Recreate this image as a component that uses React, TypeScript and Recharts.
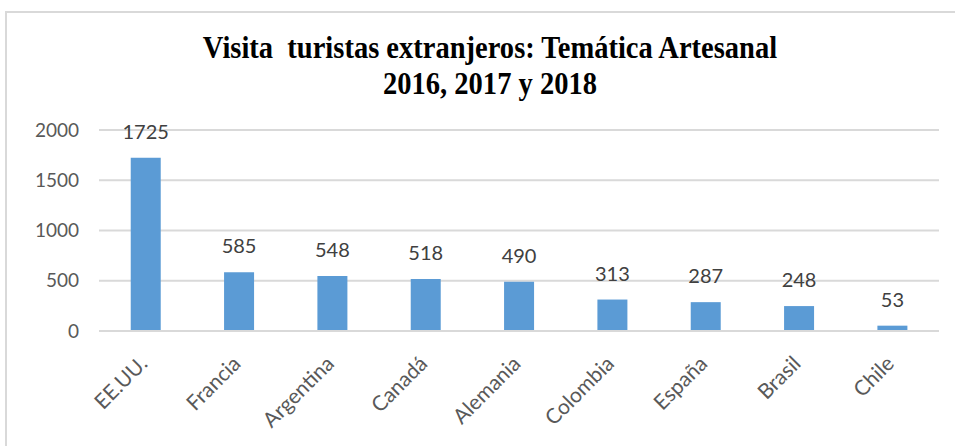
import { Bar, BarChart, CartesianGrid, LabelList, XAxis, YAxis } from "recharts";

const countries = [
  "EE.UU.",
  "Francia",
  "Argentina",
  "Canadá",
  "Alemania",
  "Colombia",
  "España",
  "Brasil",
  "Chile",
];
const visits = [1725, 585, 548, 518, 490, 313, 287, 248, 53];
const yTicks = [0, 500, 1000, 1500, 2000];
const titleLines = [
  "Visita  turistas extranjeros: Temática Artesanal",
  "2016, 2017 y 2018",
];

const data = countries.map((name, i) => ({ name, value: visits[i] }));

const FONT = "Lato, 'Open Sans', sans-serif";

function CountryTick(props: any) {
  const { x, y, payload } = props;
  const ax = x + 3;
  const ay = y + 26;
  return (
    <text
      x={ax}
      y={ay}
      transform={`rotate(-45, ${ax}, ${ay})`}
      textAnchor="end"
      fill="#595959"
      fontSize={21}
      fontFamily={FONT}
    >
      {payload.value}
    </text>
  );
}

function App() {
  return (
    <div
      style={{
        position: "absolute",
        left: 0,
        top: 0,
        width: 955,
        height: 446,
        background: "#fff",
        overflow: "hidden",
      }}
    >
      <div
        style={{
          position: "absolute",
          left: 5,
          top: 11,
          width: 960,
          height: 450,
          border: "2px solid #d9d9d9",
          boxSizing: "border-box",
        }}
      />
      <div
        style={{
          position: "absolute",
          left: 0,
          top: 30,
          width: 980,
          textAlign: "center",
          fontFamily: "'Liberation Serif', 'DejaVu Serif', serif",
          fontWeight: "bold",
          fontSize: 31,
          lineHeight: "36px",
          color: "#000",
          whiteSpace: "pre",
        }}
      >
        {titleLines.map((t) => (
          <div key={t} style={{ transform: "scaleX(0.92)" }}>
            {t}
          </div>
        ))}
      </div>
      <BarChart
        width={955}
        height={446}
        data={data}
        margin={{ top: 130, right: 16, bottom: 15, left: 0 }}
        barCategoryGap="34%"
        style={{ position: "absolute", left: 0, top: 0 }}
      >
        <CartesianGrid vertical={false} stroke="#d9d9d9" strokeWidth={2} />
        <XAxis
          dataKey="name"
          axisLine={{ stroke: "#d9d9d9", strokeWidth: 2 }}
          tickLine={false}
          interval={0}
          height={100}
          tick={<CountryTick />}
        />
        <YAxis
          domain={[0, 2000]}
          ticks={yTicks}
          width={99}
          axisLine={false}
          tickLine={false}
          tickMargin={14}
          tick={{ fill: "#595959", fontSize: 19, fontFamily: FONT }}
        />
        <Bar dataKey="value" fill="#5b9bd5" isAnimationActive={false}>
          <LabelList
            dataKey="value"
            position="top"
            offset={19}
            fill="#404040"
            fontSize={20}
            fontFamily={FONT}
          />
        </Bar>
      </BarChart>
    </div>
  );
}

export default App;
